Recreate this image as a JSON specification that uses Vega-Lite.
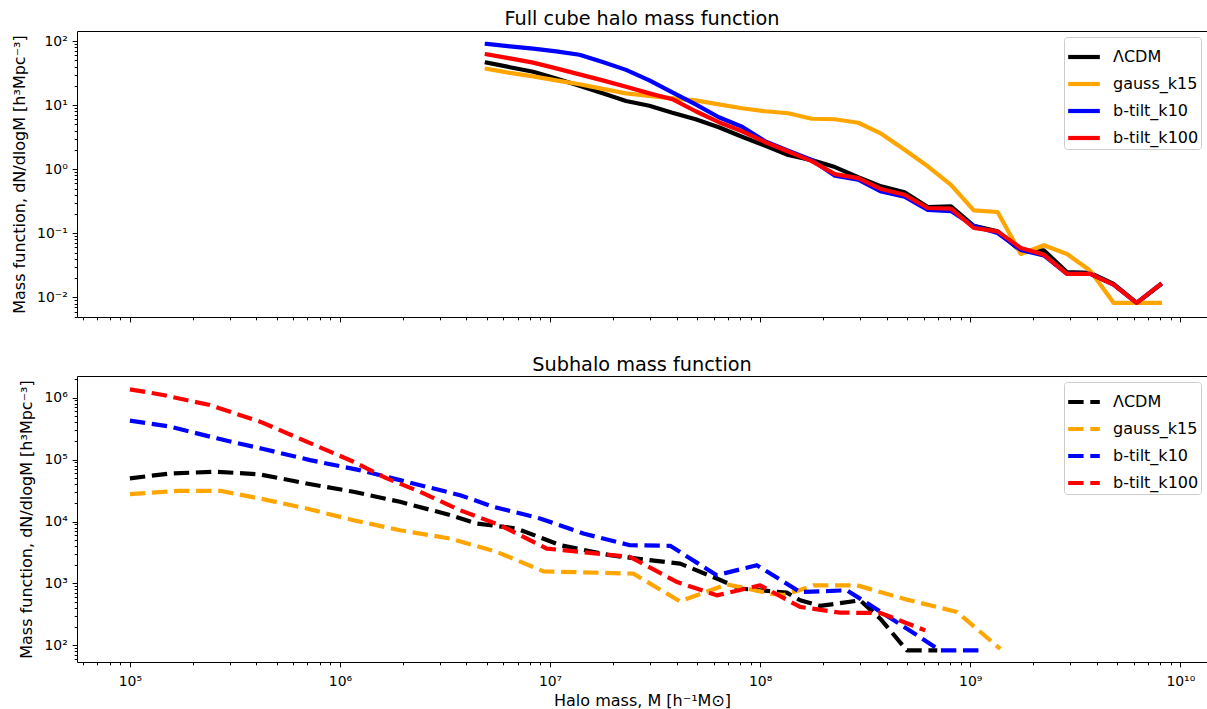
{
  "$schema": "https://vega.github.io/schema/vega-lite/v6.json",
  "padding": {"left": 11, "top": 9, "right": 0, "bottom": 0},
  "background": "white",
  "spacing": 59,
  "bounds": "flush",
  "config": {
    "font": "DejaVu Sans",
    "view": {"stroke": "#000", "strokeWidth": 1},
    "axis": {"domain": false, "grid": false, "labelFont": "DejaVu Sans", "labelFontSize": 13.9, "labelColor": "#000", "titleFont": "DejaVu Sans", "titleFontSize": 16, "titleFontWeight": "normal", "titleColor": "#000", "tickColor": "#000", "labelOverlap": false, "labelFlush": false, "labelBound": false, "labelPadding": 4.9, "titlePadding": 9},
    "title": {"font": "DejaVu Sans", "fontSize": 19.3, "fontWeight": "normal", "color": "#000", "anchor": "middle", "offset": 2},
    "legend": {"orient": "top-right", "offset": 6, "symbolType": "stroke", "symbolSize": 1000, "symbolStrokeWidth": 4.2, "labelFontSize": 16, "labelFont": "DejaVu Sans", "labelColor": "#000", "padding": 2, "rowPadding": -7.6, "strokeColor": "#cccccc", "fillColor": "rgba(255,255,255,0.8)", "cornerRadius": 3, "labelOffset": 11}
  },
  "datasets": {
    "top": [
      {"model": "ΛCDM", "M": 5.00e6, "v": 46.1}, {"model": "ΛCDM", "M": 6.44e6, "v": 39.2}, {"model": "ΛCDM", "M": 8.31e6, "v": 33.3}, {"model": "ΛCDM", "M": 1.07e7, "v": 26.2}, {"model": "ΛCDM", "M": 1.38e7, "v": 20.2}, {"model": "ΛCDM", "M": 1.78e7, "v": 15.3}, {"model": "ΛCDM", "M": 2.30e7, "v": 11.6}, {"model": "ΛCDM", "M": 2.97e7, "v": 9.8}, {"model": "ΛCDM", "M": 3.82e7, "v": 7.62}, {"model": "ΛCDM", "M": 4.93e7, "v": 6.03}, {"model": "ΛCDM", "M": 6.36e7, "v": 4.53}, {"model": "ΛCDM", "M": 8.20e7, "v": 3.22}, {"model": "ΛCDM", "M": 1.06e8, "v": 2.33}, {"model": "ΛCDM", "M": 1.36e8, "v": 1.67}, {"model": "ΛCDM", "M": 1.76e8, "v": 1.39}, {"model": "ΛCDM", "M": 2.27e8, "v": 1.08}, {"model": "ΛCDM", "M": 2.93e8, "v": 0.753}, {"model": "ΛCDM", "M": 3.77e8, "v": 0.54}, {"model": "ΛCDM", "M": 4.87e8, "v": 0.436}, {"model": "ΛCDM", "M": 6.28e8, "v": 0.257}, {"model": "ΛCDM", "M": 8.10e8, "v": 0.264}, {"model": "ΛCDM", "M": 1.04e9, "v": 0.131}, {"model": "ΛCDM", "M": 1.35e9, "v": 0.107}, {"model": "ΛCDM", "M": 1.74e9, "v": 0.0525}, {"model": "ΛCDM", "M": 2.24e9, "v": 0.0543}, {"model": "ΛCDM", "M": 2.89e9, "v": 0.0247}, {"model": "ΛCDM", "M": 3.73e9, "v": 0.0241}, {"model": "ΛCDM", "M": 4.81e9, "v": 0.0162}, {"model": "ΛCDM", "M": 6.20e9, "v": 0.0082}, {"model": "ΛCDM", "M": 8.00e9, "v": 0.0155},
      {"model": "gauss_k15", "M": 5.00e6, "v": 36.9}, {"model": "gauss_k15", "M": 6.44e6, "v": 32.0}, {"model": "gauss_k15", "M": 8.31e6, "v": 28.2}, {"model": "gauss_k15", "M": 1.07e7, "v": 24.4}, {"model": "gauss_k15", "M": 1.38e7, "v": 21.2}, {"model": "gauss_k15", "M": 1.78e7, "v": 18.0}, {"model": "gauss_k15", "M": 2.30e7, "v": 15.3}, {"model": "gauss_k15", "M": 2.97e7, "v": 14.0}, {"model": "gauss_k15", "M": 3.82e7, "v": 12.8}, {"model": "gauss_k15", "M": 4.93e7, "v": 11.9}, {"model": "gauss_k15", "M": 6.36e7, "v": 10.3}, {"model": "gauss_k15", "M": 8.20e7, "v": 8.95}, {"model": "gauss_k15", "M": 1.06e8, "v": 8.04}, {"model": "gauss_k15", "M": 1.36e8, "v": 7.48}, {"model": "gauss_k15", "M": 1.76e8, "v": 6.14}, {"model": "gauss_k15", "M": 2.27e8, "v": 6.03}, {"model": "gauss_k15", "M": 2.93e8, "v": 5.32}, {"model": "gauss_k15", "M": 3.77e8, "v": 3.59}, {"model": "gauss_k15", "M": 4.87e8, "v": 2.01}, {"model": "gauss_k15", "M": 6.28e8, "v": 1.11}, {"model": "gauss_k15", "M": 8.10e8, "v": 0.571}, {"model": "gauss_k15", "M": 1.04e9, "v": 0.228}, {"model": "gauss_k15", "M": 1.35e9, "v": 0.215}, {"model": "gauss_k15", "M": 1.74e9, "v": 0.0476}, {"model": "gauss_k15", "M": 2.24e9, "v": 0.065}, {"model": "gauss_k15", "M": 2.89e9, "v": 0.0476}, {"model": "gauss_k15", "M": 3.73e9, "v": 0.026}, {"model": "gauss_k15", "M": 4.81e9, "v": 0.0082}, {"model": "gauss_k15", "M": 6.20e9, "v": 0.0082}, {"model": "gauss_k15", "M": 8.00e9, "v": 0.0082},
      {"model": "b-tilt_k10", "M": 5.00e6, "v": 90.4}, {"model": "b-tilt_k10", "M": 6.44e6, "v": 82.6}, {"model": "b-tilt_k10", "M": 8.31e6, "v": 76.3}, {"model": "b-tilt_k10", "M": 1.07e7, "v": 69.1}, {"model": "b-tilt_k10", "M": 1.38e7, "v": 61.4}, {"model": "b-tilt_k10", "M": 1.78e7, "v": 47.1}, {"model": "b-tilt_k10", "M": 2.30e7, "v": 35.6}, {"model": "b-tilt_k10", "M": 2.97e7, "v": 24.4}, {"model": "b-tilt_k10", "M": 3.82e7, "v": 15.9}, {"model": "b-tilt_k10", "M": 4.93e7, "v": 10.3}, {"model": "b-tilt_k10", "M": 6.36e7, "v": 6.48}, {"model": "b-tilt_k10", "M": 8.20e7, "v": 4.61}, {"model": "b-tilt_k10", "M": 1.06e8, "v": 2.71}, {"model": "b-tilt_k10", "M": 1.36e8, "v": 1.94}, {"model": "b-tilt_k10", "M": 1.76e8, "v": 1.39}, {"model": "b-tilt_k10", "M": 2.27e8, "v": 0.794}, {"model": "b-tilt_k10", "M": 2.93e8, "v": 0.689}, {"model": "b-tilt_k10", "M": 3.77e8, "v": 0.448}, {"model": "b-tilt_k10", "M": 4.87e8, "v": 0.374}, {"model": "b-tilt_k10", "M": 6.28e8, "v": 0.231}, {"model": "b-tilt_k10", "M": 8.10e8, "v": 0.222}, {"model": "b-tilt_k10", "M": 1.04e9, "v": 0.13}, {"model": "b-tilt_k10", "M": 1.35e9, "v": 0.101}, {"model": "b-tilt_k10", "M": 1.74e9, "v": 0.055}, {"model": "b-tilt_k10", "M": 2.24e9, "v": 0.0451}, {"model": "b-tilt_k10", "M": 2.89e9, "v": 0.0232}, {"model": "b-tilt_k10", "M": 3.73e9, "v": 0.0232}, {"model": "b-tilt_k10", "M": 4.81e9, "v": 0.0158}, {"model": "b-tilt_k10", "M": 6.20e9, "v": 0.0082}, {"model": "b-tilt_k10", "M": 8.00e9, "v": 0.0158},
      {"model": "b-tilt_k100", "M": 5.00e6, "v": 62.1}, {"model": "b-tilt_k100", "M": 6.44e6, "v": 53.8}, {"model": "b-tilt_k100", "M": 8.31e6, "v": 46.2}, {"model": "b-tilt_k100", "M": 1.07e7, "v": 37.6}, {"model": "b-tilt_k100", "M": 1.38e7, "v": 30.3}, {"model": "b-tilt_k100", "M": 1.78e7, "v": 24.4}, {"model": "b-tilt_k100", "M": 2.30e7, "v": 19.4}, {"model": "b-tilt_k100", "M": 2.97e7, "v": 15.3}, {"model": "b-tilt_k100", "M": 3.82e7, "v": 12.4}, {"model": "b-tilt_k100", "M": 4.93e7, "v": 8.04}, {"model": "b-tilt_k100", "M": 6.36e7, "v": 5.42}, {"model": "b-tilt_k100", "M": 8.20e7, "v": 3.92}, {"model": "b-tilt_k100", "M": 1.06e8, "v": 2.64}, {"model": "b-tilt_k100", "M": 1.36e8, "v": 1.89}, {"model": "b-tilt_k100", "M": 1.76e8, "v": 1.34}, {"model": "b-tilt_k100", "M": 2.27e8, "v": 0.839}, {"model": "b-tilt_k100", "M": 2.93e8, "v": 0.727}, {"model": "b-tilt_k100", "M": 3.77e8, "v": 0.49}, {"model": "b-tilt_k100", "M": 4.87e8, "v": 0.399}, {"model": "b-tilt_k100", "M": 6.28e8, "v": 0.248}, {"model": "b-tilt_k100", "M": 8.10e8, "v": 0.242}, {"model": "b-tilt_k100", "M": 1.04e9, "v": 0.121}, {"model": "b-tilt_k100", "M": 1.35e9, "v": 0.107}, {"model": "b-tilt_k100", "M": 1.74e9, "v": 0.059}, {"model": "b-tilt_k100", "M": 2.24e9, "v": 0.0464}, {"model": "b-tilt_k100", "M": 2.89e9, "v": 0.0232}, {"model": "b-tilt_k100", "M": 3.73e9, "v": 0.0232}, {"model": "b-tilt_k100", "M": 4.81e9, "v": 0.0158}, {"model": "b-tilt_k100", "M": 6.20e9, "v": 0.0082}, {"model": "b-tilt_k100", "M": 8.00e9, "v": 0.0158}
    ],
    "sub": [
      {"model": "ΛCDM", "M": 1.00e5, "v": 4.96e4}, {"model": "ΛCDM", "M": 1.55e5, "v": 5.96e4}, {"model": "ΛCDM", "M": 2.59e5, "v": 6.36e4}, {"model": "ΛCDM", "M": 4.16e5, "v": 5.75e4}, {"model": "ΛCDM", "M": 6.93e5, "v": 4.11e4}, {"model": "ΛCDM", "M": 1.16e6, "v": 3.02e4}, {"model": "ΛCDM", "M": 1.93e6, "v": 2.08e4}, {"model": "ΛCDM", "M": 3.34e6, "v": 1.27e4}, {"model": "ΛCDM", "M": 4.48e6, "v": 9.29e3}, {"model": "ΛCDM", "M": 6.93e6, "v": 7.71e3}, {"model": "ΛCDM", "M": 1.12e7, "v": 4.14e3}, {"model": "ΛCDM", "M": 1.93e7, "v": 2.85e3}, {"model": "ΛCDM", "M": 2.59e7, "v": 2.52e3}, {"model": "ΛCDM", "M": 4.16e7, "v": 2.09e3}, {"model": "ΛCDM", "M": 6.22e7, "v": 1.20e3}, {"model": "ΛCDM", "M": 8.04e7, "v": 826}, {"model": "ΛCDM", "M": 1.00e8, "v": 775}, {"model": "ΛCDM", "M": 1.34e8, "v": 711}, {"model": "ΛCDM", "M": 1.55e8, "v": 535}, {"model": "ΛCDM", "M": 1.93e8, "v": 434}, {"model": "ΛCDM", "M": 2.99e8, "v": 535}, {"model": "ΛCDM", "M": 3.73e8, "v": 270}, {"model": "ΛCDM", "M": 5.00e8, "v": 83}, {"model": "ΛCDM", "M": 6.97e8, "v": 83},
      {"model": "gauss_k15", "M": 1.00e5, "v": 2.76e4}, {"model": "gauss_k15", "M": 1.73e5, "v": 3.13e4}, {"model": "gauss_k15", "M": 2.68e5, "v": 3.13e4}, {"model": "gauss_k15", "M": 4.16e5, "v": 2.35e4}, {"model": "gauss_k15", "M": 6.93e5, "v": 1.62e4}, {"model": "gauss_k15", "M": 1.16e6, "v": 1.05e4}, {"model": "gauss_k15", "M": 1.93e6, "v": 7.23e3}, {"model": "gauss_k15", "M": 3.34e6, "v": 5.31e3}, {"model": "gauss_k15", "M": 5.57e6, "v": 3.24e3}, {"model": "gauss_k15", "M": 9.29e6, "v": 1.57e3}, {"model": "gauss_k15", "M": 2.49e7, "v": 1.44e3}, {"model": "gauss_k15", "M": 4.16e7, "v": 514}, {"model": "gauss_k15", "M": 6.93e7, "v": 968}, {"model": "gauss_k15", "M": 1.12e8, "v": 686}, {"model": "gauss_k15", "M": 1.30e8, "v": 650}, {"model": "gauss_k15", "M": 1.80e8, "v": 933}, {"model": "gauss_k15", "M": 2.89e8, "v": 933}, {"model": "gauss_k15", "M": 5.00e8, "v": 548}, {"model": "gauss_k15", "M": 8.64e8, "v": 347}, {"model": "gauss_k15", "M": 1.39e9, "v": 88},
      {"model": "b-tilt_k10", "M": 1.00e5, "v": 4.25e5}, {"model": "b-tilt_k10", "M": 1.55e5, "v": 3.40e5}, {"model": "b-tilt_k10", "M": 2.59e5, "v": 2.20e5}, {"model": "b-tilt_k10", "M": 4.32e5, "v": 1.48e5}, {"model": "b-tilt_k10", "M": 7.20e5, "v": 9.80e4}, {"model": "b-tilt_k10", "M": 1.24e6, "v": 6.75e4}, {"model": "b-tilt_k10", "M": 1.93e6, "v": 4.65e4}, {"model": "b-tilt_k10", "M": 3.73e6, "v": 2.66e4}, {"model": "b-tilt_k10", "M": 5.37e6, "v": 1.73e4}, {"model": "b-tilt_k10", "M": 8.96e6, "v": 1.12e4}, {"model": "b-tilt_k10", "M": 1.44e7, "v": 6.40e3}, {"model": "b-tilt_k10", "M": 2.40e7, "v": 4.14e3}, {"model": "b-tilt_k10", "M": 3.73e7, "v": 4.05e3}, {"model": "b-tilt_k10", "M": 6.22e7, "v": 1.36e3}, {"model": "b-tilt_k10", "M": 9.64e7, "v": 1.97e3}, {"model": "b-tilt_k10", "M": 1.55e8, "v": 729}, {"model": "b-tilt_k10", "M": 2.59e8, "v": 775}, {"model": "b-tilt_k10", "M": 2.99e8, "v": 569}, {"model": "b-tilt_k10", "M": 5.00e8, "v": 186}, {"model": "b-tilt_k10", "M": 7.20e8, "v": 83}, {"model": "b-tilt_k10", "M": 1.16e9, "v": 83},
      {"model": "b-tilt_k100", "M": 1.00e5, "v": 1.36e6}, {"model": "b-tilt_k100", "M": 1.44e5, "v": 1.10e6}, {"model": "b-tilt_k100", "M": 2.40e5, "v": 7.59e5}, {"model": "b-tilt_k100", "M": 4.16e5, "v": 4.09e5}, {"model": "b-tilt_k100", "M": 6.93e5, "v": 1.95e5}, {"model": "b-tilt_k100", "M": 1.16e6, "v": 9.23e4}, {"model": "b-tilt_k100", "M": 1.67e6, "v": 4.96e4}, {"model": "b-tilt_k100", "M": 2.40e6, "v": 3.02e4}, {"model": "b-tilt_k100", "M": 3.73e6, "v": 1.52e4}, {"model": "b-tilt_k100", "M": 5.78e6, "v": 8.71e3}, {"model": "b-tilt_k100", "M": 9.64e6, "v": 3.66e3}, {"model": "b-tilt_k100", "M": 2.40e7, "v": 2.69e3}, {"model": "b-tilt_k100", "M": 4.01e7, "v": 1.06e3}, {"model": "b-tilt_k100", "M": 6.22e7, "v": 643}, {"model": "b-tilt_k100", "M": 1.00e8, "v": 933}, {"model": "b-tilt_k100", "M": 1.55e8, "v": 418}, {"model": "b-tilt_k100", "M": 2.40e8, "v": 338}, {"model": "b-tilt_k100", "M": 3.73e8, "v": 334}, {"model": "b-tilt_k100", "M": 6.11e8, "v": 175}
    ]
  },
  "vconcat": [
    {
      "title": "Full cube halo mass function",
      "width": 1130,
      "height": 286,
      "data": {"name": "top"},
      "mark": {"type": "line", "strokeWidth": 4.2, "strokeCap": "square", "strokeJoin": "round"},
      "encoding": {
        "x": {"field": "M", "type": "quantitative", "scale": {"type": "log", "domain": [5.6e4, 1.34e10], "nice": false},
          "axis": {"title": null, "labels": false, "values": [6e4,7e4,8e4,9e4,1e5,2e5,3e5,4e5,5e5,6e5,7e5,8e5,9e5,1e6,2e6,3e6,4e6,5e6,6e6,7e6,8e6,9e6,1e7,2e7,3e7,4e7,5e7,6e7,7e7,8e7,9e7,1e8,2e8,3e8,4e8,5e8,6e8,7e8,8e8,9e8,1e9,2e9,3e9,4e9,5e9,6e9,7e9,8e9,9e9,1e10],
            "tickSize": {"condition": {"test": "abs(log(datum.value)/LN10 - round(log(datum.value)/LN10)) < 0.01", "value": 4.9}, "value": 2.8}}},
        "y": {"field": "v", "type": "quantitative", "scale": {"type": "log", "domain": [4.93e-3, 144], "nice": false},
          "axis": {"title": "Mass function, dN/dlogM  [h³Mpc⁻³]", "values": [0.005,0.006,0.007,0.008,0.009,0.01,0.02,0.03,0.04,0.05,0.06,0.07,0.08,0.09,0.1,0.2,0.3,0.4,0.5,0.6,0.7,0.8,0.9,1,2,3,4,5,6,7,8,9,10,20,30,40,50,60,70,80,90,100],
            "labelExpr": "abs(log(datum.value)/LN10 - round(log(datum.value)/LN10)) < 0.01 ? '10' + replace(replace(replace(replace(replace(replace(replace(replace(replace(replace(replace('' + round(log(datum.value)/LN10), '-', '⁻'), '0', '⁰'), '1', '¹'), '2', '²'), '3', '³'), '4', '⁴'), '5', '⁵'), '6', '⁶'), '7', '⁷'), '8', '⁸'), '9', '⁹') : ''",
            "tickSize": {"condition": {"test": "abs(log(datum.value)/LN10 - round(log(datum.value)/LN10)) < 0.01", "value": 4.9}, "value": 2.8}}},
        "color": {"field": "model", "type": "nominal", "scale": {"domain": ["ΛCDM", "gauss_k15", "b-tilt_k10", "b-tilt_k100"], "range": ["#000000", "#ffa500", "#0000ff", "#ff0000"]}, "legend": {"title": null}}
      }
    },
    {
      "title": {"text": "Subhalo mass function", "offset": -3},
      "width": 1130,
      "height": 286,
      "data": {"name": "sub"},
      "mark": {"type": "line", "strokeWidth": 4.2, "strokeCap": "butt", "strokeJoin": "round", "strokeDash": [15.4, 6.7]},
      "encoding": {
        "x": {"field": "M", "type": "quantitative", "scale": {"type": "log", "domain": [5.6e4, 1.34e10], "nice": false},
          "axis": {"title": "Halo mass, M  [h⁻¹M⊙]", "titlePadding": 4, "labelPadding": 8, "values": [6e4,7e4,8e4,9e4,1e5,2e5,3e5,4e5,5e5,6e5,7e5,8e5,9e5,1e6,2e6,3e6,4e6,5e6,6e6,7e6,8e6,9e6,1e7,2e7,3e7,4e7,5e7,6e7,7e7,8e7,9e7,1e8,2e8,3e8,4e8,5e8,6e8,7e8,8e8,9e8,1e9,2e9,3e9,4e9,5e9,6e9,7e9,8e9,9e9,1e10],
            "labelExpr": "abs(log(datum.value)/LN10 - round(log(datum.value)/LN10)) < 0.01 ? '10' + replace(replace(replace(replace(replace(replace(replace(replace(replace(replace(replace('' + round(log(datum.value)/LN10), '-', '⁻'), '0', '⁰'), '1', '¹'), '2', '²'), '3', '³'), '4', '⁴'), '5', '⁵'), '6', '⁶'), '7', '⁷'), '8', '⁸'), '9', '⁹') : ''",
            "tickSize": {"condition": {"test": "abs(log(datum.value)/LN10 - round(log(datum.value)/LN10)) < 0.01", "value": 4.9}, "value": 2.8}}},
        "y": {"field": "v", "type": "quantitative", "scale": {"type": "log", "domain": [54, 2.23e6], "nice": false},
          "axis": {"title": "Mass function, dN/dlogM  [h³Mpc⁻³]", "values": [60,70,80,90,100,200,300,400,500,600,700,800,900,1000,2000,3000,4000,5000,6000,7000,8000,9000,1e4,2e4,3e4,4e4,5e4,6e4,7e4,8e4,9e4,1e5,2e5,3e5,4e5,5e5,6e5,7e5,8e5,9e5,1e6,2e6],
            "labelExpr": "abs(log(datum.value)/LN10 - round(log(datum.value)/LN10)) < 0.01 ? '10' + replace(replace(replace(replace(replace(replace(replace(replace(replace(replace(replace('' + round(log(datum.value)/LN10), '-', '⁻'), '0', '⁰'), '1', '¹'), '2', '²'), '3', '³'), '4', '⁴'), '5', '⁵'), '6', '⁶'), '7', '⁷'), '8', '⁸'), '9', '⁹') : ''",
            "tickSize": {"condition": {"test": "abs(log(datum.value)/LN10 - round(log(datum.value)/LN10)) < 0.01", "value": 4.9}, "value": 2.8}}},
        "color": {"field": "model", "type": "nominal", "scale": {"domain": ["ΛCDM", "gauss_k15", "b-tilt_k10", "b-tilt_k100"], "range": ["#000000", "#ffa500", "#0000ff", "#ff0000"]}, "legend": {"title": null, "symbolDash": [15.4, 6.7]}}
      }
    }
  ],
  "resolve": {"scale": {"color": "independent", "x": "independent", "y": "independent"}, "legend": {"color": "independent"}}
}
